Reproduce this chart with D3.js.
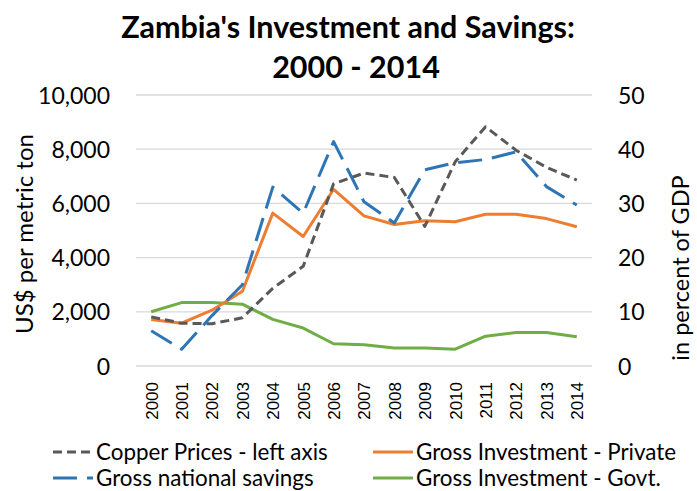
<!DOCTYPE html>
<html>
<head>
<meta charset="utf-8">
<script src="https://cdn.jsdelivr.net/npm/d3@7"></script>
<style>
body { margin: 0; background: #fff; }
text { font-family: Lato, "Open Sans", sans-serif; fill: #000; }
</style>
</head>
<body>
<div id="chart"></div>
<script>
var years = ["2000", "2001", "2002", "2003", "2004", "2005", "2006", "2007",
	"2008", "2009", "2010", "2011", "2012", "2013", "2014"];

// US$ per metric ton, left axis
var copperPrices = [1813, 1578, 1560, 1779, 2866, 3679, 6722, 7118, 6956, 5150,
	7535, 8828, 7962, 7332, 6863];

// in percent of GDP, right axis
var nationalSavings = [6.5, 3.1, 9.3, 15.0, 33.0, 28.2, 41.4, 30.3, 26.4, 36.2,
	37.5, 38.1, 39.5, 33.1, 29.7];
var investPrivate = [8.6, 7.9, 10.3, 13.8, 28.2, 23.9, 32.6, 27.7, 26.1, 26.8,
	26.6, 28.0, 28.0, 27.2, 25.7];
var investGovt = [10.0, 11.7, 11.7, 11.4, 8.6, 7.0, 4.1, 3.9, 3.3, 3.3,
	3.1, 5.5, 6.2, 6.2, 5.4];

var leftTicks = [0, 2000, 4000, 6000, 8000, 10000];
var rightTicks = [0, 10, 20, 30, 40, 50];

var W = 697, H = 491;
var margin = { top: 95, right: 105, bottom: 125, left: 136 };
var width = W - margin.left - margin.right, height = H - margin.top - margin.bottom;

var svg = d3.select("#chart").append("svg").attr("width", W).attr("height", H);

var x = d3.scalePoint().domain(years).range([0, width]).padding(0.5);
var yL = d3.scaleLinear().domain([0, 10000]).range([height, 0]);
var yR = d3.scaleLinear().domain([0, 50]).range([height, 0]);

var g = svg.append("g").attr("transform",
		"translate(" + margin.left + "," + margin.top + ")");

// gridlines
g.selectAll("line.grid").data(leftTicks).enter().append("line")
		.attr("class", "grid").attr("x1", 0).attr("x2", width)
		.attr("y1", function(d) { return yL(d); })
		.attr("y2", function(d) { return yL(d); })
		.attr("stroke", "#d9d9d9").attr("stroke-width", 1.3);

// left axis
var axL = g.append("g").call(d3.axisLeft(yL).tickValues(leftTicks)
		.tickFormat(d3.format(",")).tickSize(0).tickPadding(26));
axL.select(".domain").remove();
axL.selectAll("text").style("font-family", "Lato, sans-serif")
		.style("font-size", "23px").attr("dy", "0.35em");

// right axis
var axR = g.append("g").attr("transform", "translate(" + width + ",0)")
		.call(d3.axisRight(yR).tickValues(rightTicks).tickSize(0).tickPadding(26));
axR.select(".domain").remove();
axR.selectAll("text").style("font-family", "Lato, sans-serif")
		.style("font-size", "23px").attr("dy", "0.35em");

// bottom axis, rotated years
var axB = g.append("g").attr("transform", "translate(0," + height + ")")
		.call(d3.axisBottom(x).tickSize(0).tickPadding(0));
axB.select(".domain").remove();
axB.selectAll("text").style("font-family", "'Liberation Sans', Arial, sans-serif")
		.style("font-size", "17px").attr("text-anchor", "end")
		.attr("transform", "rotate(-90)").attr("x", -16).attr("y", 0)
		.attr("dy", "0.35em");

var series = [
	{ name: "Gross Investment - Govt.", values: investGovt, scale: yR, color: "#70ad47", dash: null },
	{ name: "Gross Investment - Private", values: investPrivate, scale: yR, color: "#ed7d31", dash: null },
	{ name: "Copper Prices - left axis", values: copperPrices, scale: yL, color: "#595959", dash: "9,5" },
	{ name: "Gross national savings", values: nationalSavings, scale: yR, color: "#2e75b6", dash: "24,10" }
];

series.forEach(function(s) {
	var line = d3.line().x(function(d, i) {
		return x(years[i]);
	}).y(function(d) {
		return s.scale(d);
	});
	g.append("path").datum(s.values).attr("d", line).attr("fill", "none")
			.attr("stroke", s.color).attr("stroke-width", 3)
			.attr("stroke-dasharray", s.dash)
			.attr("stroke-linejoin", "round");
});

// titles
svg.append("text").attr("x", 348).attr("y", 38).attr("text-anchor", "middle")
		.style("font-size", "30.5px").style("font-weight", "bold")
		.text("Zambia's Investment and Savings:");
svg.append("text").attr("x", 356).attr("y", 78).attr("text-anchor", "middle")
		.style("font-size", "30.5px").style("font-weight", "bold")
		.text("2000 - 2014");

svg.append("text").attr("transform", "translate(33,234) rotate(-90)")
		.attr("text-anchor", "middle").style("font-size", "24px")
		.text("US$ per metric ton");
svg.append("text").attr("transform", "translate(689,268) rotate(-90)")
		.attr("text-anchor", "middle").style("font-size", "23.5px")
		.text("in percent of GDP");

// legend
var legendItems = [
	{ s: series[2], x: 53, y: 452 },
	{ s: series[1], x: 373, y: 452 },
	{ s: series[3], x: 53, y: 478 },
	{ s: series[0], x: 373, y: 478 }
];
legendItems.forEach(function(d) {
	var lg = svg.append("g").attr("transform", "translate(" + d.x + "," + d.y + ")");
	lg.append("line").attr("x1", 0).attr("x2", 40).attr("y1", 0).attr("y2", 0)
			.attr("stroke", d.s.color).attr("stroke-width", 3)
			.attr("stroke-dasharray", d.s.dash);
	lg.append("text").attr("x", 43).attr("y", 0).attr("dy", "0.35em")
			.style("font-size", "22.4px").text(d.s.name);
});
</script>
</body>
</html>
